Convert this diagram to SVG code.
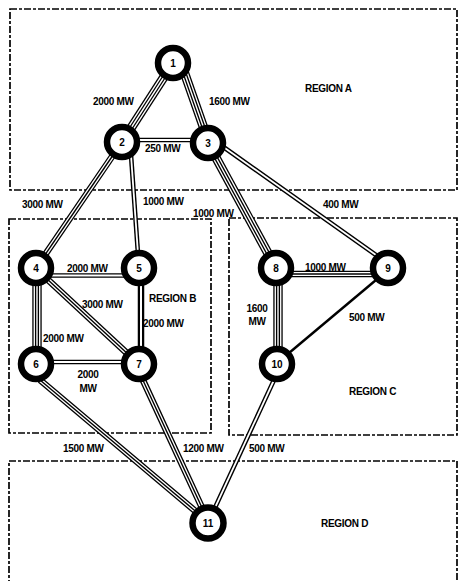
<svg xmlns="http://www.w3.org/2000/svg" xmlns:xlink="http://www.w3.org/1999/xlink" width="458" height="581" viewBox="0 0 458 581">
<style>
text{font-family:"Liberation Sans",Arial,sans-serif;font-weight:bold;font-size:10px;fill:#000}
.lbl{letter-spacing:-0.3px}
.nl{text-anchor:middle}
.mid{text-anchor:middle}
.region{fill:none;stroke:#000;stroke-width:1.7;stroke-dasharray:7 2 3 2}
.node{fill:#fff;stroke:#000;stroke-width:6.5}
use{fill:none;stroke-linecap:butt}
.b7{stroke:#000;stroke-width:9.4}
.w5{stroke:#fff;stroke-width:6.8}
.b3{stroke:#000;stroke-width:4.1}
.w1{stroke:#fff;stroke-width:1.4}
.b5{stroke:#000;stroke-width:6.6}
.w3{stroke:#fff;stroke-width:4}
.bb1{stroke:#000;stroke-width:1.4}
.d2b{stroke:#000;stroke-width:4.6}
.d2w{stroke:#fff;stroke-width:1.8}
.t2b{stroke:#000;stroke-width:6.5}
.t2w{stroke:#fff;stroke-width:2}
.single{stroke:#000;stroke-width:2.4}
</style>
<defs>
<path id="p12" d="M173,63 L122,142"/>
<path id="p13" d="M181,63 L209,143"/>
<path id="p23" d="M122,140 L208,140"/>
<path id="p24" d="M122,142 L36,268"/>
<path id="p25" d="M131,155 L139,268"/>
<path id="p38" d="M208,143 L276,268"/>
<path id="p39" d="M222,146 L383,260"/>
<path id="p45" d="M36,275.5 L139,275.5"/>
<path id="p46" d="M37,268 L37,364"/>
<path id="p47" d="M46,278 L130,356"/>
<path id="p57" d="M141,268 L141,364"/>
<path id="p67" d="M36,362 L139,362"/>
<path id="p611" d="M40,380 L200,515"/>
<path id="p711" d="M141,376 L204,512"/>
<path id="p89" d="M276,274 L388,274"/>
<path id="p810" d="M278,268 L278,364"/>
<path id="p910" d="M376,280 L289,353"/>
<path id="p1011" d="M274,380 L213,512"/>
</defs>

<g id="regions">
<rect class="region" x="10" y="9" width="447" height="181"/>
<rect class="region" x="9" y="219" width="202" height="214"/>
<rect class="region" x="229" y="218" width="228" height="217"/>
<rect class="region" x="9" y="461" width="448" height="140"/>
</g>

<g id="connectors">
<use href="#p12" class="b7"/><use href="#p12" class="w5"/><use href="#p12" class="b3"/><use href="#p12" class="w1"/>
<use href="#p13" class="b7"/><use href="#p13" class="w5"/><use href="#p13" class="b3"/><use href="#p13" class="w1"/>
<use href="#p38" class="b7"/><use href="#p38" class="w5"/><use href="#p38" class="b3"/><use href="#p38" class="w1"/>
<use href="#p46" class="b7"/><use href="#p46" class="w5"/><use href="#p46" class="b3"/><use href="#p46" class="w1"/>
<use href="#p810" class="b7"/><use href="#p810" class="w5"/><use href="#p810" class="b3"/><use href="#p810" class="w1"/>
<use href="#p24" class="b5"/><use href="#p24" class="w3"/><use href="#p24" class="bb1"/>
<use href="#p47" class="b5"/><use href="#p47" class="w3"/><use href="#p47" class="bb1"/>
<use href="#p611" class="b5"/><use href="#p611" class="w3"/><use href="#p611" class="bb1"/>
<use href="#p711" class="b5"/><use href="#p711" class="w3"/><use href="#p711" class="bb1"/>
<use href="#p89" class="b5"/><use href="#p89" class="w3"/><use href="#p89" class="bb1"/>
<use href="#p23" class="d2b"/><use href="#p23" class="d2w"/>
<use href="#p25" class="d2b"/><use href="#p25" class="d2w"/>
<use href="#p39" class="d2b"/><use href="#p39" class="d2w"/>
<use href="#p45" class="d2b"/><use href="#p45" class="d2w"/>
<use href="#p67" class="d2b"/><use href="#p67" class="d2w"/>
<use href="#p1011" class="d2b"/><use href="#p1011" class="d2w"/>
<use href="#p57" class="t2b"/><use href="#p57" class="t2w"/>
<use href="#p910" class="single"/>
</g>

<g id="n1"><circle class="node" cx="173" cy="63" r="15"/><text class="nl" x="173" y="66.5">1</text></g>
<g id="n2"><circle class="node" cx="122" cy="142" r="15"/><text class="nl" x="122" y="145.5">2</text></g>
<g id="n3"><circle class="node" cx="208" cy="143" r="15"/><text class="nl" x="208" y="146.5">3</text></g>
<g id="n4"><circle class="node" cx="36" cy="268" r="15"/><text class="nl" x="36" y="271.5">4</text></g>
<g id="n5"><circle class="node" cx="139" cy="268" r="15"/><text class="nl" x="139" y="271.5">5</text></g>
<g id="n6"><circle class="node" cx="36" cy="364" r="15"/><text class="nl" x="36" y="367.5">6</text></g>
<g id="n7"><circle class="node" cx="139" cy="364" r="15"/><text class="nl" x="139" y="367.5">7</text></g>
<g id="n8"><circle class="node" cx="276" cy="268" r="15"/><text class="nl" x="276" y="271.5">8</text></g>
<g id="n9"><circle class="node" cx="388" cy="268" r="15"/><text class="nl" x="388" y="271.5">9</text></g>
<g id="n10"><circle class="node" cx="277" cy="364" r="15"/><text class="nl" x="277" y="367.5">10</text></g>
<g id="n11"><circle class="node" cx="208" cy="523" r="15.5"/><text class="nl" x="208" y="526.5">11</text></g>

<g id="labels">
<text class="lbl" x="93" y="105">2000 MW</text>
<text class="lbl" x="209" y="105">1600 MW</text>
<text class="lbl" x="145" y="152">250 MW</text>
<text class="lbl" x="22" y="208">3000 MW</text>
<text class="lbl" x="143" y="205">1000 MW</text>
<text class="lbl" x="193" y="217">1000 MW</text>
<text class="lbl" x="323" y="208">400 MW</text>
<text class="lbl" x="67" y="272">2000 MW</text>
<text class="lbl" x="149" y="302">REGION B</text>
<text class="lbl" x="82" y="308">3000 MW</text>
<text class="lbl" x="143" y="327">2000 MW</text>
<text class="lbl" x="43" y="342">2000 MW</text>
<text class="lbl mid" x="88" y="378">2000</text>
<text class="lbl mid" x="88" y="392">MW</text>
<text class="lbl" x="305" y="271">1000 MW</text>
<text class="lbl mid" x="257" y="312">1600</text>
<text class="lbl mid" x="257" y="325">MW</text>
<text class="lbl" x="349" y="321">500 MW</text>
<text class="lbl" x="349" y="395">REGION C</text>
<text class="lbl" x="63" y="452">1500 MW</text>
<text class="lbl" x="183" y="452">1200 MW</text>
<text class="lbl" x="249" y="452">500 MW</text>
<text class="lbl" x="321" y="527">REGION D</text>
<text class="lbl" x="305" y="92">REGION A</text>
</g>
</svg>
